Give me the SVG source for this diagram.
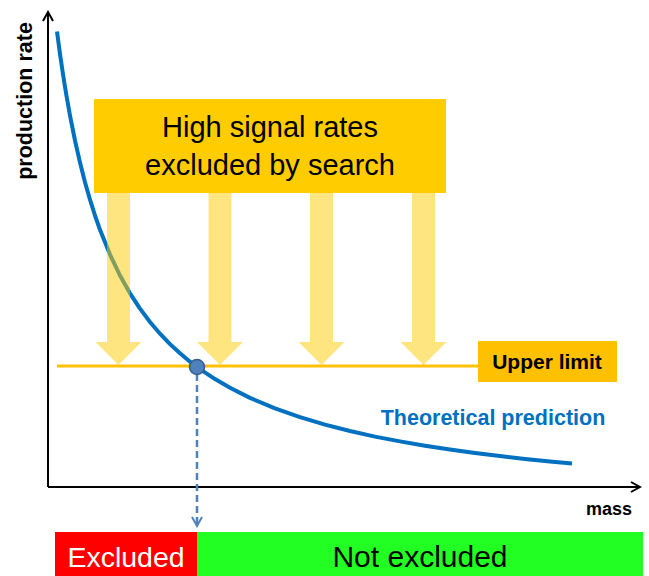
<svg xmlns="http://www.w3.org/2000/svg" width="649" height="576" viewBox="0 0 649 576">
<style>
text{font-family:"Liberation Sans",Arial,sans-serif}
.ax{stroke:#000;stroke-width:2;fill:none}
.arr{fill:#FFCC00;fill-opacity:0.5}
.b{font-weight:bold}
</style>
<defs>
<marker id="ah" viewBox="0 0 12 12" refX="10" refY="6" markerWidth="12" markerHeight="12" markerUnits="userSpaceOnUse" orient="auto">
<path d="M1,1 L10,6 L1,11" fill="none" stroke="#000" stroke-width="2"/>
</marker>
<marker id="dh" viewBox="0 0 12 12" refX="10" refY="6" markerWidth="12" markerHeight="12" markerUnits="userSpaceOnUse" orient="auto">
<path d="M1,1 L10,6 L1,11" fill="none" stroke="#4F81BD" stroke-width="2"/>
</marker>
</defs>
<g id="axes">
<line class="ax" x1="48" y1="487" x2="48" y2="12" marker-end="url(#ah)"/>
<line class="ax" x1="48" y1="487" x2="640" y2="487" marker-end="url(#ah)"/>
<text class="b" font-size="21.5" transform="translate(32,101) rotate(-90)" text-anchor="middle">production rate</text>
<text class="b" x="609" y="515" font-size="18" text-anchor="middle">mass</text>
</g>
<g id="upper-limit">
<line x1="57" y1="366" x2="480" y2="366" stroke="#FFC000" stroke-width="3"/>
<rect x="478" y="341" width="139" height="41" fill="#FFC000"/>
<text class="b" x="547" y="369" font-size="21" text-anchor="middle">Upper limit</text>
</g>
<g id="curve">
<polyline fill="none" stroke="#0070C0" stroke-width="4" stroke-linejoin="round" points="57,31.6 60,54 63,74.3 66,93 70,115.5 75,140.5 80,162.6 85,182.2 90,199.7 95,215.5 100,229.8 110,254.6 120,275.5 130,293.3 140,308.6 150,322 160,333.7 170,344.1 180,353.3 190,361.7 200,369.2 215,379.1 230,387.8 250,397.9 275,408.4 300,417.1 325,424.6 350,431 375,436.6 400,441.4 425,445.7 450,449.6 475,453 500,456.1 525,458.9 550,461.4 572,463.5"/>
<text class="b" x="493" y="425" font-size="21.5" fill="#0070C0" text-anchor="middle">Theoretical prediction</text>
</g>
<g id="search-box">
<rect x="94" y="99" width="352" height="94" fill="#FFCC00"/>
<text x="270" y="137" font-size="29" text-anchor="middle">High signal rates</text>
<text x="270" y="175" font-size="29" text-anchor="middle">excluded by search</text>
</g>
<g id="arrows">
<path class="arr" d="M107,193 H130 V342 H141.5 L118.5,365 L95.5,342 H107 Z"/>
<path class="arr" d="M208.5,193 H231.5 V342 H243 L220,365 L197,342 H208.5 Z"/>
<path class="arr" d="M310,193 H333 V342 H344.5 L321.5,365 L298.5,342 H310 Z"/>
<path class="arr" d="M412,193 H435 V342 H446.5 L423.5,365 L400.5,342 H412 Z"/>
</g>
<g id="connectors">
<line x1="197" y1="374" x2="197" y2="526" stroke="#4F81BD" stroke-width="2.5" stroke-dasharray="7,4" marker-end="url(#dh)"/>
</g>
<g id="point">
<circle cx="197" cy="367" r="7.5" fill="#4F81BD" stroke="#385D8A" stroke-width="1.5"/>
</g>
<g id="excluded">
<rect x="55" y="532" width="142" height="44" fill="#FF0000"/>
<text x="126" y="567" font-size="28.5" fill="#fff" text-anchor="middle">Excluded</text>
</g>
<g id="not-excluded">
<rect x="197" y="532" width="446" height="44" fill="#22FF22"/>
<text x="420" y="567" font-size="30" text-anchor="middle">Not excluded</text>
</g>
</svg>
